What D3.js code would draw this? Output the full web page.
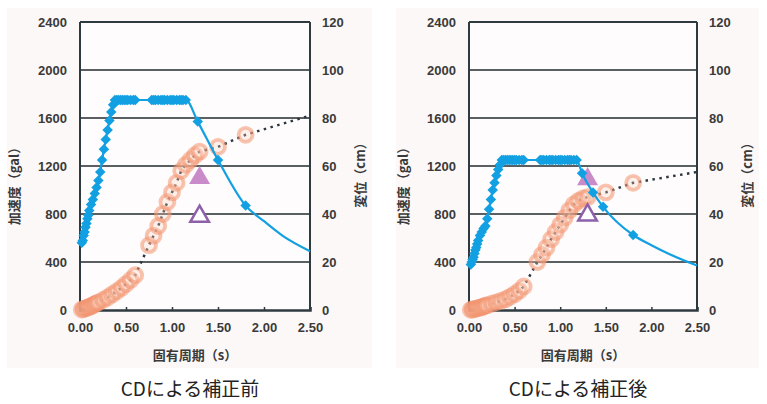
<!DOCTYPE html>
<html>
<head>
<meta charset="utf-8">
<script src="https://cdn.jsdelivr.net/npm/d3@7"></script>
<style>
  body { margin: 0; background: #fff; }
  svg text { font-family: "Liberation Sans", Arial, sans-serif; }
  .jp { font-family: "Noto Sans CJK JP", sans-serif; }
</style>
</head>
<body>
<div id="chart"></div>
<script>
// ---- data ----
const xTicks = [0, 0.5, 1.0, 1.5, 2.0, 2.5];          // 固有周期 (s)
const accTicks = [0, 400, 800, 1200, 1600, 2000, 2400]; // 加速度 (gal)
const dispTicks = [0, 20, 40, 60, 80, 100, 120];        // 変位 (cm)
const captions = ["CDによる補正前", "CDによる補正後"];

// acceleration spectrum, marked points [T, gal]
const accBefore = [
  [0.02, 560], [0.03, 580], [0.04, 620], [0.05, 650], [0.06, 690], [0.07, 720], [0.08, 760],
  [0.09, 790], [0.10, 830], [0.12, 880], [0.14, 920], [0.16, 970], [0.18, 1020], [0.20, 1080],
  [0.22, 1150], [0.24, 1250], [0.26, 1340], [0.28, 1420], [0.30, 1500], [0.32, 1580],
  [0.34, 1650], [0.36, 1710], [0.38, 1750], [0.40, 1750], [0.42, 1750], [0.44, 1750],
  [0.46, 1750], [0.48, 1750], [0.50, 1750], [0.52, 1750], [0.55, 1750], [0.58, 1750],
  [0.60, 1750], [0.78, 1750], [0.80, 1750], [0.82, 1750], [0.85, 1750], [0.88, 1750],
  [0.90, 1750], [0.92, 1750], [0.95, 1750], [0.98, 1750], [1.00, 1750], [1.02, 1750],
  [1.05, 1750], [1.08, 1750], [1.10, 1750], [1.12, 1750], [1.15, 1750], [1.28, 1570],
  [1.50, 1250], [1.80, 870]
];
// unmarked tail of the line
const accBeforeTail = [[2.0, 740], [2.2, 620], [2.5, 490]];

const accAfter = [
  [0.02, 380], [0.03, 400], [0.04, 420], [0.05, 440], [0.06, 470], [0.07, 500], [0.08, 520],
  [0.09, 550], [0.10, 580], [0.12, 620], [0.14, 650], [0.16, 680], [0.18, 700], [0.20, 760],
  [0.22, 840], [0.24, 920], [0.26, 1000], [0.28, 1060], [0.30, 1120], [0.32, 1170],
  [0.34, 1210], [0.36, 1250], [0.38, 1250], [0.40, 1250], [0.42, 1250], [0.44, 1250],
  [0.46, 1250], [0.48, 1250], [0.50, 1250], [0.52, 1250], [0.55, 1250], [0.58, 1250],
  [0.60, 1250], [0.78, 1250], [0.80, 1250], [0.82, 1250], [0.85, 1250], [0.88, 1250],
  [0.90, 1250], [0.92, 1250], [0.95, 1250], [0.98, 1250], [1.00, 1250], [1.02, 1250],
  [1.05, 1250], [1.08, 1250], [1.10, 1250], [1.12, 1250], [1.15, 1250], [1.18, 1250],
  [1.24, 1140], [1.36, 980], [1.47, 860], [1.80, 625]
];
const accAfterTail = [[2.0, 540], [2.2, 465], [2.5, 370]];

// displacement spectrum [T, cm]
const dispBefore = [
  [0.02, 0.2], [0.04, 0.4], [0.06, 0.7], [0.08, 1.0], [0.10, 1.3], [0.12, 1.6], [0.14, 2.0],
  [0.16, 2.4], [0.18, 2.8], [0.20, 3.2], [0.25, 4.2], [0.30, 5.2], [0.35, 6.5], [0.40, 7.8],
  [0.45, 9.2], [0.50, 10.8], [0.55, 12.5], [0.60, 14.5], [0.75, 27], [0.80, 31], [0.85, 35],
  [0.90, 40], [0.95, 45], [1.00, 49], [1.05, 53], [1.10, 58], [1.15, 60.5], [1.20, 62.5],
  [1.25, 64.5], [1.30, 66], [1.50, 68], [1.80, 73], [2.50, 81]
];
const dispAfter = [
  [0.02, 0.1], [0.04, 0.2], [0.06, 0.4], [0.08, 0.6], [0.10, 0.8], [0.12, 1.0], [0.14, 1.2],
  [0.16, 1.5], [0.18, 1.8], [0.20, 2.0], [0.25, 2.6], [0.30, 3.2], [0.35, 3.8], [0.40, 4.5],
  [0.45, 5.5], [0.50, 6.6], [0.55, 8.0], [0.60, 9.8], [0.75, 20], [0.80, 23], [0.85, 26],
  [0.90, 29.5], [0.95, 32.5], [1.00, 35.5], [1.05, 38.5], [1.10, 41.5], [1.15, 44],
  [1.20, 45.5], [1.25, 46.5], [1.30, 47], [1.50, 49], [1.80, 53], [2.50, 57.5]
];
// last point of each displacement list has no marker (line end only)

// triangles [T, gal]
const triFilledBefore = [[1.3, 1100]];
const triOpenBefore = [[1.3, 780]];
const triFilledAfter = [[1.3, 1090]];
const triOpenAfter = [[1.3, 790]];

// ---- drawing ----
const W = 767, H = 404;
const svg = d3.select("#chart").append("svg").attr("width", W).attr("height", H);

const panels = [
  { left: 80, right: 310, acc: accBefore, tail: accBeforeTail, disp: dispBefore,
    triF: triFilledBefore, triO: triOpenBefore, caption: captions[0] },
  { left: 469, right: 697, acc: accAfter, tail: accAfterTail, disp: dispAfter,
    triF: triFilledAfter, triO: triOpenAfter, caption: captions[1] }
];

const plotTop = 22, plotBottom = 310;
const blue = "#12a0e2";

panels.forEach(p => {
  const g = svg.append("g");

  g.append("rect")
    .attr("x", p.left - 73).attr("y", 8)
    .attr("width", p.right - p.left + 135).attr("height", 360)
    .attr("fill", "#fcf8f7");

  const x = d3.scaleLinear().domain([0, 2.5]).range([p.left, p.right]);
  const yL = d3.scaleLinear().domain([0, 2400]).range([plotBottom, plotTop]);
  const yR = d3.scaleLinear().domain([0, 120]).range([plotBottom, plotTop]);

  g.append("rect")
    .attr("x", p.left).attr("y", plotTop)
    .attr("width", p.right - p.left).attr("height", plotBottom - plotTop)
    .attr("fill", "#fefcfc");

  // gridlines
  g.selectAll(".grid").data(accTicks.filter(d => d > 0)).enter()
    .append("line")
    .attr("x1", p.left).attr("x2", p.right)
    .attr("y1", d => yL(d)).attr("y2", d => yL(d))
    .attr("stroke", d => d === 2400 ? "#2e3a40" : "#5a5f62")
    .attr("stroke-width", 2);

  // frame
  g.append("line").attr("x1", p.left).attr("x2", p.left).attr("y1", plotTop).attr("y2", plotBottom)
    .attr("stroke", "#2e3a40").attr("stroke-width", 2);
  g.append("line").attr("x1", p.right).attr("x2", p.right).attr("y1", plotTop).attr("y2", plotBottom)
    .attr("stroke", "#2e3a40").attr("stroke-width", 2);

  // bottom axis
  const xAxis = d3.axisBottom(x).tickValues(xTicks).tickFormat(d3.format(".2f")).tickSize(-3).tickPadding(13);
  const xg = g.append("g").attr("transform", `translate(0,${plotBottom})`).call(xAxis);
  xg.select(".domain").attr("stroke", "#2e3a40").attr("stroke-width", 2.5);
  xg.selectAll(".tick line").attr("stroke", "#2e3a40").attr("stroke-width", 1.5);

  // left/right tick labels
  const yAxisL = d3.axisLeft(yL).tickValues(accTicks).tickFormat(d3.format("d")).tickSize(0).tickPadding(13);
  const ylg = g.append("g").attr("transform", `translate(${p.left},0)`).call(yAxisL);
  ylg.select(".domain").remove();
  const yAxisR = d3.axisRight(yR).tickValues(dispTicks).tickFormat(d3.format("d")).tickSize(0).tickPadding(12);
  const yrg = g.append("g").attr("transform", `translate(${p.right},0)`).call(yAxisR);
  yrg.select(".domain").remove();
  g.selectAll(".tick text").attr("font-size", 13).attr("font-weight", "bold").attr("fill", "#3a3a3a")
    .attr("font-family", "Liberation Sans, Arial, sans-serif");

  // titles
  g.append("text").attr("class", "jp")
    .attr("transform", `translate(${p.left - 61},183) rotate(-90)`)
    .attr("text-anchor", "middle").attr("font-size", 13).attr("font-weight", "bold")
    .attr("fill", "#3a3a3a").text("加速度（gal）");
  g.append("text").attr("class", "jp")
    .attr("transform", `translate(${p.right + 55},172) rotate(-90)`)
    .attr("text-anchor", "middle").attr("font-size", 13).attr("font-weight", "bold")
    .attr("fill", "#3a3a3a").text("変位（cm）");
  g.append("text").attr("class", "jp")
    .attr("x", (p.left + p.right) / 2).attr("y", 360)
    .attr("text-anchor", "middle").attr("font-size", 13).attr("font-weight", "bold")
    .attr("fill", "#3a3a3a").text("固有周期（s）");
  g.append("text").attr("class", "jp")
    .attr("x", (p.left + p.right) / 2 - 5).attr("y", 396)
    .attr("text-anchor", "middle").attr("font-size", 19)
    .attr("fill", "#222").text(p.caption);

  // displacement: dotted line + circles (right axis)
  g.append("path")
    .datum(p.disp)
    .attr("fill", "none")
    .attr("stroke", "#2b3640")
    .attr("stroke-width", 2.5)
    .attr("stroke-dasharray", "2.5,4.5")
    .attr("d", d3.line().x(d => x(d[0])).y(d => yR(d[1])));

  g.selectAll(".disp").data(p.disp.slice(0, -1)).enter()
    .append("circle")
    .attr("cx", d => x(d[0])).attr("cy", d => yR(d[1])).attr("r", 7)
    .attr("fill", "#fbd0bc").attr("fill-opacity", 0.3)
    .attr("stroke", "#f39470").attr("stroke-opacity", 0.55).attr("stroke-width", 3.8);

  // triangles
  const tri = d3.symbol().type(d3.symbolTriangle).size(190);
  g.selectAll(".triF").data(p.triF).enter()
    .append("path")
    .attr("d", tri)
    .attr("transform", d => `translate(${x(d[0])},${yL(d[1])})`)
    .attr("fill", "#c98bca");
  g.selectAll(".triO").data(p.triO).enter()
    .append("path")
    .attr("d", d3.symbol().type(d3.symbolTriangle).size(150))
    .attr("transform", d => `translate(${x(d[0])},${yL(d[1])})`)
    .attr("fill", "#fff").attr("stroke", "#8e60aa").attr("stroke-width", 2.5);

  // acceleration line + diamonds
  g.append("path")
    .datum(p.acc.concat(p.tail))
    .attr("fill", "none")
    .attr("stroke", blue)
    .attr("stroke-width", 2.2)
    .attr("d", d3.line().curve(d3.curveMonotoneX).x(d => x(d[0])).y(d => yL(d[1])));

  const dia = d3.symbol().type(d3.symbolSquare).size(55);
  g.selectAll(".acc").data(p.acc).enter()
    .append("path")
    .attr("d", dia)
    .attr("transform", d => `translate(${x(d[0])},${yL(d[1])}) rotate(45)`)
    .attr("fill", blue);
});
</script>
</body>
</html>
